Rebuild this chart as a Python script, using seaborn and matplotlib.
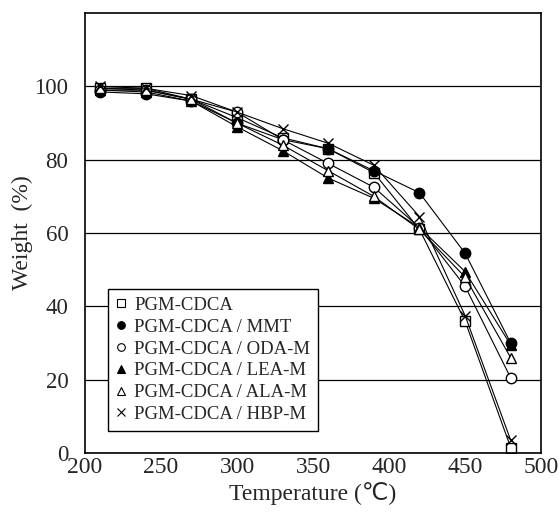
import matplotlib
matplotlib.use('Agg')
import matplotlib.pyplot as plt
from matplotlib.lines import Line2D
import seaborn as sns

temps = [210, 240, 270, 300, 330, 360, 390, 420, 450, 480]
pgm = [99.5, 99.5, 96.5, 91.5, 86, 83, 76.5, 61, 36, 1.5]
mmt = [98.5, 98, 96, 90, 85.5, 83, 77, 71, 54.5, 30]
oda = [99, 99, 96.5, 93, 85.5, 79, 72.5, 61.5, 45.5, 20.5]
lea = [99, 98.5, 96, 89, 82.5, 75, 69.5, 61.5, 49.5, 29.5]
ala = [99.5, 99, 96.5, 90, 84, 77, 70, 61, 48, 26]
hbp = [100, 99.5, 97.5, 93, 88.5, 84.5, 78.5, 64.5, 37.5, 3.5]

labels = ['PGM-CDCA', 'PGM-CDCA / MMT', 'PGM-CDCA / ODA-M',
          'PGM-CDCA / LEA-M', 'PGM-CDCA / ALA-M', 'PGM-CDCA / HBP-M']
series = [pgm, mmt, oda, lea, ala, hbp]
markers = ['s', 'o', 'o', '^', '^', 'x']
faces = ['white', 'black', 'white', 'black', 'white', 'black']

sns.set_style('white')
plt.rcParams['font.family'] = ['Liberation Serif', 'DejaVu Sans']

fig = plt.figure(figsize=(5.59, 5.25), dpi=100)
ax = fig.add_axes([0.152, 0.137, 0.816, 0.838])

ax.yaxis.grid(True, color='black', linewidth=0.9)
ax.set_axisbelow(True)

for vals, m, fc in zip(series, markers, faces):
    sns.lineplot(x=temps, y=vals, ax=ax, color='black', linewidth=0.8,
                 marker=m, markersize=7.5, markerfacecolor=fc,
                 markeredgecolor='black', markeredgewidth=1.0)

ax.set_xlim(200, 500)
ax.set_ylim(0, 120)
ax.set_xticks(range(200, 501, 50))
ax.set_yticks(range(0, 101, 20))
ax.tick_params(axis='x', direction='in', length=9, width=1, labelsize=17, pad=3)
ax.tick_params(axis='y', length=0, labelsize=16.5, pad=12)
for s in ax.spines.values():
    s.set_color('black')
    s.set_linewidth(1.2)

ax.set_xlabel('Temperature (\u2103)', fontsize=17, labelpad=3)
ax.set_ylabel('Weight  (%)', fontsize=17, labelpad=1)

handles = [Line2D([], [], linestyle='none', marker=m, markersize=5.5,
                  markerfacecolor=fc, markeredgecolor='black', markeredgewidth=0.8)
           for m, fc in zip(markers, faces)]
leg = ax.legend(handles, labels, loc='lower left', bbox_to_anchor=(0.03, 0.03),
                fontsize=13.5, frameon=True, fancybox=False, edgecolor='black',
                handlelength=0.6, handletextpad=0.4, labelspacing=0.25,
                borderpad=0.4, framealpha=1)
leg.get_frame().set_linewidth(1.0)

fig.savefig('out.png', dpi=100)
